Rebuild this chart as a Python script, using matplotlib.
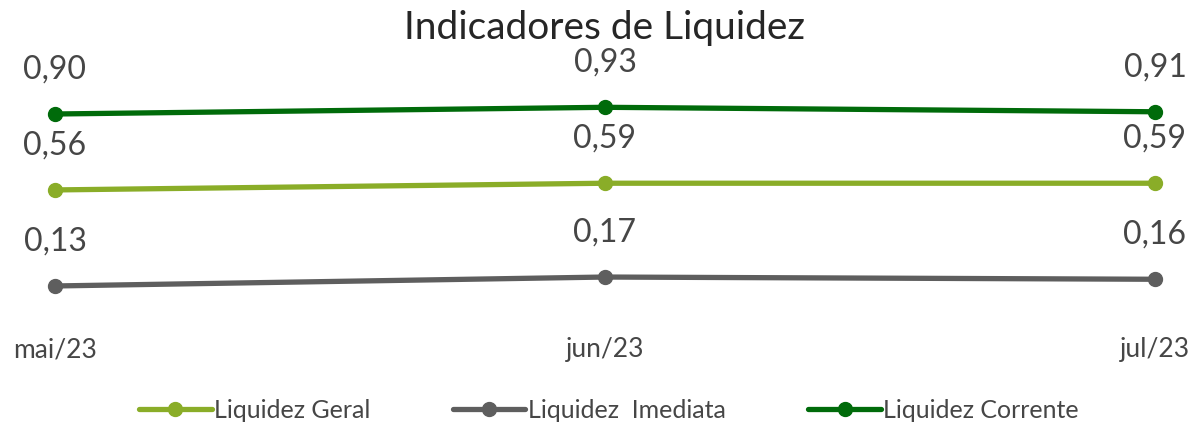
import matplotlib
matplotlib.use("Agg")
import matplotlib.pyplot as plt

plt.rcParams['font.family'] = ['Lato', 'DejaVu Sans']

meses = ['mai/23', 'jun/23', 'jul/23']
geral = [0.56, 0.59, 0.59]
imediata = [0.13, 0.17, 0.16]
corrente = [0.90, 0.93, 0.91]

cor_geral = '#8aad28'
cor_imediata = '#5e5e5e'
cor_corrente = '#006b0a'
cor_texto = '#464646'

fig = plt.figure(figsize=(11.94, 4.24), dpi=100)
ax = fig.add_axes([55 / 1194, 109 / 424, 1100 / 1194, 201 / 424])

x = list(range(len(meses)))
series = [
    (geral, cor_geral, 'Liquidez Geral'),
    (imediata, cor_imediata, 'Liquidez  Imediata'),
    (corrente, cor_corrente, 'Liquidez Corrente'),
]
for vals, cor, nome in series:
    ax.plot(x, vals, color=cor, lw=3.8, marker='o', ms=10, label=nome,
            clip_on=False, solid_capstyle='round')
    for xi, v in zip(x, vals):
        ax.annotate(f'{v:.2f}'.replace('.', ','), (xi, v), xytext=(0, 32),
                    textcoords='offset points', ha='center', va='center',
                    fontsize=23, color=cor_texto, annotation_clip=False)

ax.set_xlim(0, 2)
ax.set_ylim(0, 0.9)
ax.axis('off')

for xi, m in zip(x, meses):
    ax.annotate(m, (xi, 0), xytext=(0, -25), textcoords='offset points',
                ha='center', va='center', fontsize=19, color=cor_texto,
                annotation_clip=False)

fig.text(604 / 1194, 1 - 28 / 424, 'Indicadores de Liquidez', ha='center',
         va='center', fontsize=28, color='#262626')

fig.legend(loc='center', bbox_to_anchor=(609 / 1194, 1 - 410 / 424), ncol=3,
           frameon=False, fontsize=18, handlelength=2.9, columnspacing=3.3,
           handletextpad=0.1, labelcolor=cor_texto)

fig.savefig('out.png', dpi=100)
